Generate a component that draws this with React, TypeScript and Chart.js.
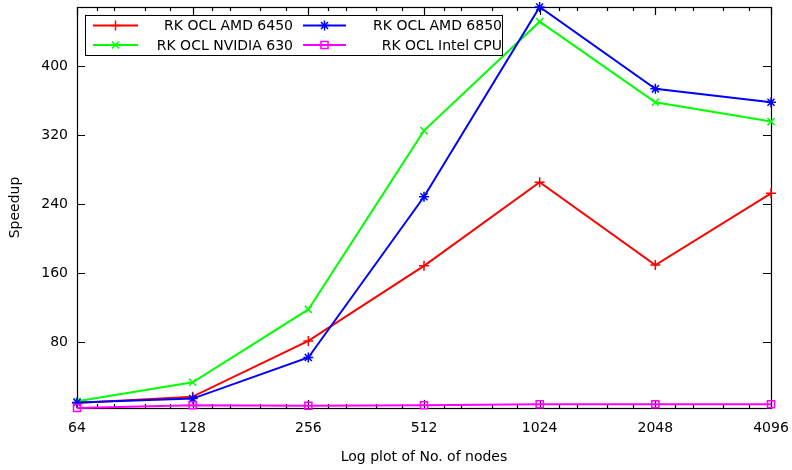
import React, { useEffect, useRef } from 'react';
import { Chart, registerables } from 'chart.js';

Chart.register(...registerables);

// ---- data ----
const nodes = [64, 128, 256, 512, 1024, 2048, 4096];
const amd6450 = [9.5, 16.8, 81.5, 168.6, 265.6, 169.5, 252.8];
const nvidia630 = [11.4, 33.5, 118, 325.5, 452, 358.5, 336];
const amd6850 = [10, 14.5, 62.2, 248.8, 469, 374, 358.5];
const intelCpu = [3.6, 6.7, 6.2, 6.7, 7.9, 7.9, 7.9];
const yTicks = [80, 160, 240, 320, 400];
const minorFactors = [1.125, 1.25, 1.5, 1.75];

const seriesNames = ['RK OCL AMD 6450', 'RK OCL NVIDIA 630', 'RK OCL AMD 6850', 'RK OCL Intel CPU'];
const seriesColors = ['#ff0000', '#00ff00', '#0000ff', '#ff00ff'];
const seriesStyles = ['cross', 'crossRot', 'star', 'rect'];
const seriesValues = [amd6450, nvidia630, amd6850, intelCpu];

const allValues = seriesValues.flat();
const yMin = Math.min(...allValues);
const yMax = Math.max(...allValues);

const FONT = 'DejaVu Sans';
const FS = 14;

function drawMarker(ctx: CanvasRenderingContext2D, style: string, x: number, y: number, r: number) {
  ctx.beginPath();
  if (style === 'cross' || style === 'star') {
    ctx.moveTo(x - r, y); ctx.lineTo(x + r, y);
    ctx.moveTo(x, y - r); ctx.lineTo(x, y + r);
  }
  if (style === 'crossRot' || style === 'star') {
    const d = r * Math.SQRT1_2;
    ctx.moveTo(x - d, y - d); ctx.lineTo(x + d, y + d);
    ctx.moveTo(x - d, y + d); ctx.lineTo(x + d, y - d);
  }
  if (style === 'rect') {
    const s = r * Math.SQRT1_2;
    ctx.rect(x - s, y - s, 2 * s, 2 * s);
  }
  ctx.stroke();
}

const framePlugin = {
  id: 'gnuFrame',
  beforeDatasetsDraw(chart: any) {
    const { ctx, chartArea } = chart;
    const { left, right, top, bottom } = chartArea;
    const xs = chart.scales.x;
    const ys = chart.scales.y;
    ctx.save();
    ctx.strokeStyle = '#000';
    ctx.lineWidth = 1.2;
    ctx.strokeRect(Math.round(left) + 0.5, Math.round(top) + 0.5, Math.round(right - left), Math.round(bottom - top));
    ctx.beginPath();
    nodes.forEach((v, i) => {
      const px = Math.round(xs.getPixelForValue(v)) + 0.5;
      ctx.moveTo(px, bottom); ctx.lineTo(px, bottom - 8);
      ctx.moveTo(px, top); ctx.lineTo(px, top + 8);
      if (i < nodes.length - 1) {
        minorFactors.forEach((m) => {
          const mx = Math.round(xs.getPixelForValue(v * m)) + 0.5;
          ctx.moveTo(mx, bottom); ctx.lineTo(mx, bottom - 4);
          ctx.moveTo(mx, top); ctx.lineTo(mx, top + 4);
        });
      }
    });
    yTicks.forEach((v) => {
      const py = Math.round(ys.getPixelForValue(v)) + 0.5;
      ctx.moveTo(left, py); ctx.lineTo(left + 8, py);
      ctx.moveTo(right, py); ctx.lineTo(right - 8, py);
    });
    ctx.stroke();
    ctx.restore();
  },
  afterDatasetsDraw(chart: any) {
    const { ctx } = chart;
    ctx.save();
    // legend box
    ctx.strokeStyle = '#000';
    ctx.lineWidth = 1;
    ctx.strokeRect(85.5, 15.5, 417, 40);
    const cols = [
      { lineX0: 93, lineX1: 138, textRight: 293 },
      { lineX0: 303, lineX1: 346, textRight: 502 },
    ];
    const rows = [25.5, 45];
    // positions: [col,row] per series
    const pos = [[0, 0], [0, 1], [1, 0], [1, 1]];
    ctx.font = `${FS}px "${FONT}"`;
    ctx.textAlign = 'right';
    ctx.textBaseline = 'middle';
    seriesNames.forEach((name, i) => {
      const c = cols[pos[i][0]];
      const y = rows[pos[i][1]];
      ctx.strokeStyle = seriesColors[i];
      ctx.lineWidth = 2;
      ctx.beginPath();
      ctx.moveTo(c.lineX0, y); ctx.lineTo(c.lineX1, y);
      ctx.stroke();
      ctx.lineWidth = 1.5;
      drawMarker(ctx, seriesStyles[i], (c.lineX0 + c.lineX1) / 2, y, 5);
      ctx.fillStyle = '#000';
      ctx.fillText(name, c.textRight, y + 1);
    });
    ctx.restore();
  },
};

export default function App() {
  const ref = useRef<HTMLCanvasElement | null>(null);
  useEffect(() => {
    if (!ref.current) return;
    const orders = [4, 3, 2, 1];
    const chart = new Chart(ref.current, {
      type: 'line',
      data: {
        datasets: seriesNames.map((name, i) => ({
          label: name,
          data: nodes.map((n, j) => ({ x: n, y: seriesValues[i][j] })),
          borderColor: seriesColors[i],
          backgroundColor: 'rgba(0,0,0,0)',
          borderWidth: 2,
          pointStyle: seriesStyles[i] as any,
          pointRadius: 5,
          pointBorderWidth: 1.5,
          pointBorderColor: seriesColors[i],
          pointBackgroundColor: 'rgba(0,0,0,0)',
          tension: 0,
          clip: false as any,
          order: orders[i],
        })),
      },
      options: {
        animation: false,
        responsive: false,
        devicePixelRatio: 1,
        layout: { padding: { left: 0, top: 7, right: 21, bottom: 0 } },
        plugins: { legend: { display: false }, tooltip: { enabled: false } },
        scales: {
          x: {
            type: 'logarithmic',
            min: nodes[0],
            max: nodes[nodes.length - 1],
            afterBuildTicks: (s: any) => { s.ticks = nodes.map((v) => ({ value: v })); },
            afterFit: (s: any) => { s.height = 62; s.paddingLeft = 0; s.paddingRight = 0; },
            grid: { display: false, drawTicks: false },
            border: { display: false },
            ticks: {
              callback: (v: any) => String(v),
              font: { family: FONT, size: FS },
              color: '#000',
              padding: 12,
              maxRotation: 0,
              autoSkip: false,
            },
            title: {
              display: true,
              text: 'Log plot of No. of nodes',
              font: { family: FONT, size: FS },
              color: '#000',
              padding: { top: 0, bottom: 4 },
            },
          },
          y: {
            type: 'linear',
            min: yMin,
            max: yMax,
            afterBuildTicks: (s: any) => { s.ticks = yTicks.map((v) => ({ value: v })); },
            afterFit: (s: any) => { s.width = 77; s.paddingTop = 0; s.paddingBottom = 0; },
            grid: { display: false, drawTicks: false },
            border: { display: false },
            ticks: {
              font: { family: FONT, size: FS },
              color: '#000',
              padding: 9,
            },
            title: {
              display: true,
              text: 'Speedup',
              font: { family: FONT, size: FS },
              color: '#000',
              padding: { top: 7, bottom: 0 },
            },
          },
        },
      },
      plugins: [framePlugin],
    });
    return () => chart.destroy();
  }, []);
  return (
    <div style={{ position: 'absolute', left: 0, top: 0, width: 792, height: 470, background: '#fff' }}>
      <canvas ref={ref} width={792} height={470} style={{ display: 'block' }} />
    </div>
  );
}
